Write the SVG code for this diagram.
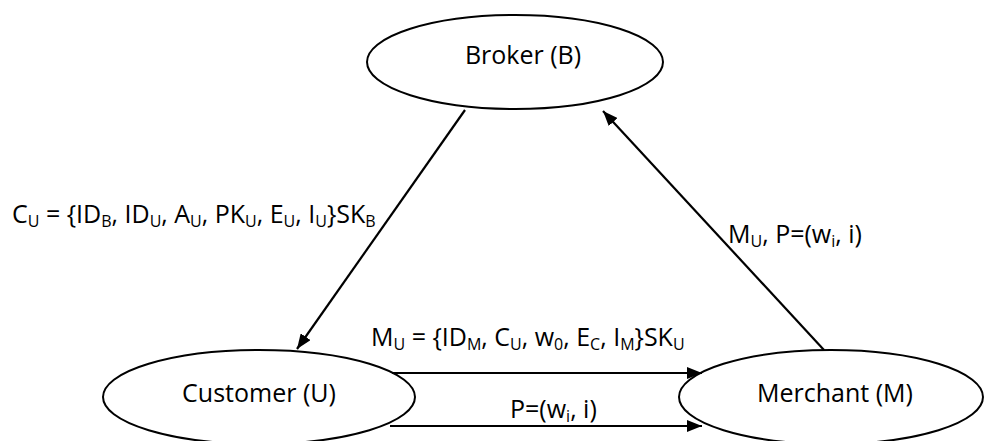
<svg xmlns="http://www.w3.org/2000/svg" width="984" height="441" viewBox="0 0 984 441">
<style>
text{font-family:"Open Sans","Noto Sans","Liberation Sans",sans-serif;font-size:25px;fill:#000}
.sub{font-size:16px}
ellipse{fill:#fff;stroke:#000;stroke-width:2}
.edge{stroke:#000;stroke-width:2.2;fill:none;marker-end:url(#ah)}
</style>
<defs>
<marker id="ah" markerUnits="userSpaceOnUse" markerWidth="16" markerHeight="12" refX="15" refY="6" orient="auto">
<path d="M0,0 L15,6 L0,12 z" fill="#000"/>
</marker>
</defs>
<rect width="984" height="441" fill="#fff"/>
<g id="broker"><ellipse cx="515" cy="62" rx="148" ry="47"/><text x="523" y="64" text-anchor="middle">Broker (B)</text></g>
<g id="customer"><ellipse cx="259" cy="397" rx="156" ry="47"/><text x="259" y="402" text-anchor="middle">Customer (U)</text></g>
<g id="merchant"><ellipse cx="831" cy="397" rx="152" ry="47"/><text x="835" y="402" text-anchor="middle">Merchant (M)</text></g>
<g id="connectors">
<line class="edge" x1="465" y1="110" x2="297" y2="349"/>
<line class="edge" x1="824" y1="350" x2="603" y2="111"/>
<line class="edge" x1="392" y1="373" x2="702" y2="373"/>
<line class="edge" x1="390" y1="426" x2="702" y2="426"/>
</g>
<g id="labels">
<text x="12" y="223">C<tspan class="sub" dy="4">U</tspan><tspan dy="-4"> = {ID</tspan><tspan class="sub" dy="4">B</tspan><tspan dy="-4">, ID</tspan><tspan class="sub" dy="4">U</tspan><tspan dy="-4">, A</tspan><tspan class="sub" dy="4">U</tspan><tspan dy="-4">, PK</tspan><tspan class="sub" dy="4">U</tspan><tspan dy="-4">, E</tspan><tspan class="sub" dy="4">U</tspan><tspan dy="-4">, I</tspan><tspan class="sub" dy="4">U</tspan><tspan dy="-4">}SK</tspan><tspan class="sub" dy="4">B</tspan></text>
<text x="371" y="346">M<tspan class="sub" dy="4">U</tspan><tspan dy="-4"> = {ID</tspan><tspan class="sub" dy="4">M</tspan><tspan dy="-4">, C</tspan><tspan class="sub" dy="4">U</tspan><tspan dy="-4">, w</tspan><tspan class="sub" dy="4">0</tspan><tspan dy="-4">, E</tspan><tspan class="sub" dy="4">C</tspan><tspan dy="-4">, I</tspan><tspan class="sub" dy="4">M</tspan><tspan dy="-4">}SK</tspan><tspan class="sub" dy="4">U</tspan></text>
<text x="510" y="418">P=(w<tspan class="sub" dy="4">i</tspan><tspan dy="-4">, i)</tspan></text>
<text x="728" y="243">M<tspan class="sub" dy="4">U</tspan><tspan dy="-4">, P=(w</tspan><tspan class="sub" dy="4">i</tspan><tspan dy="-4">, i)</tspan></text>
</g>
</svg>
